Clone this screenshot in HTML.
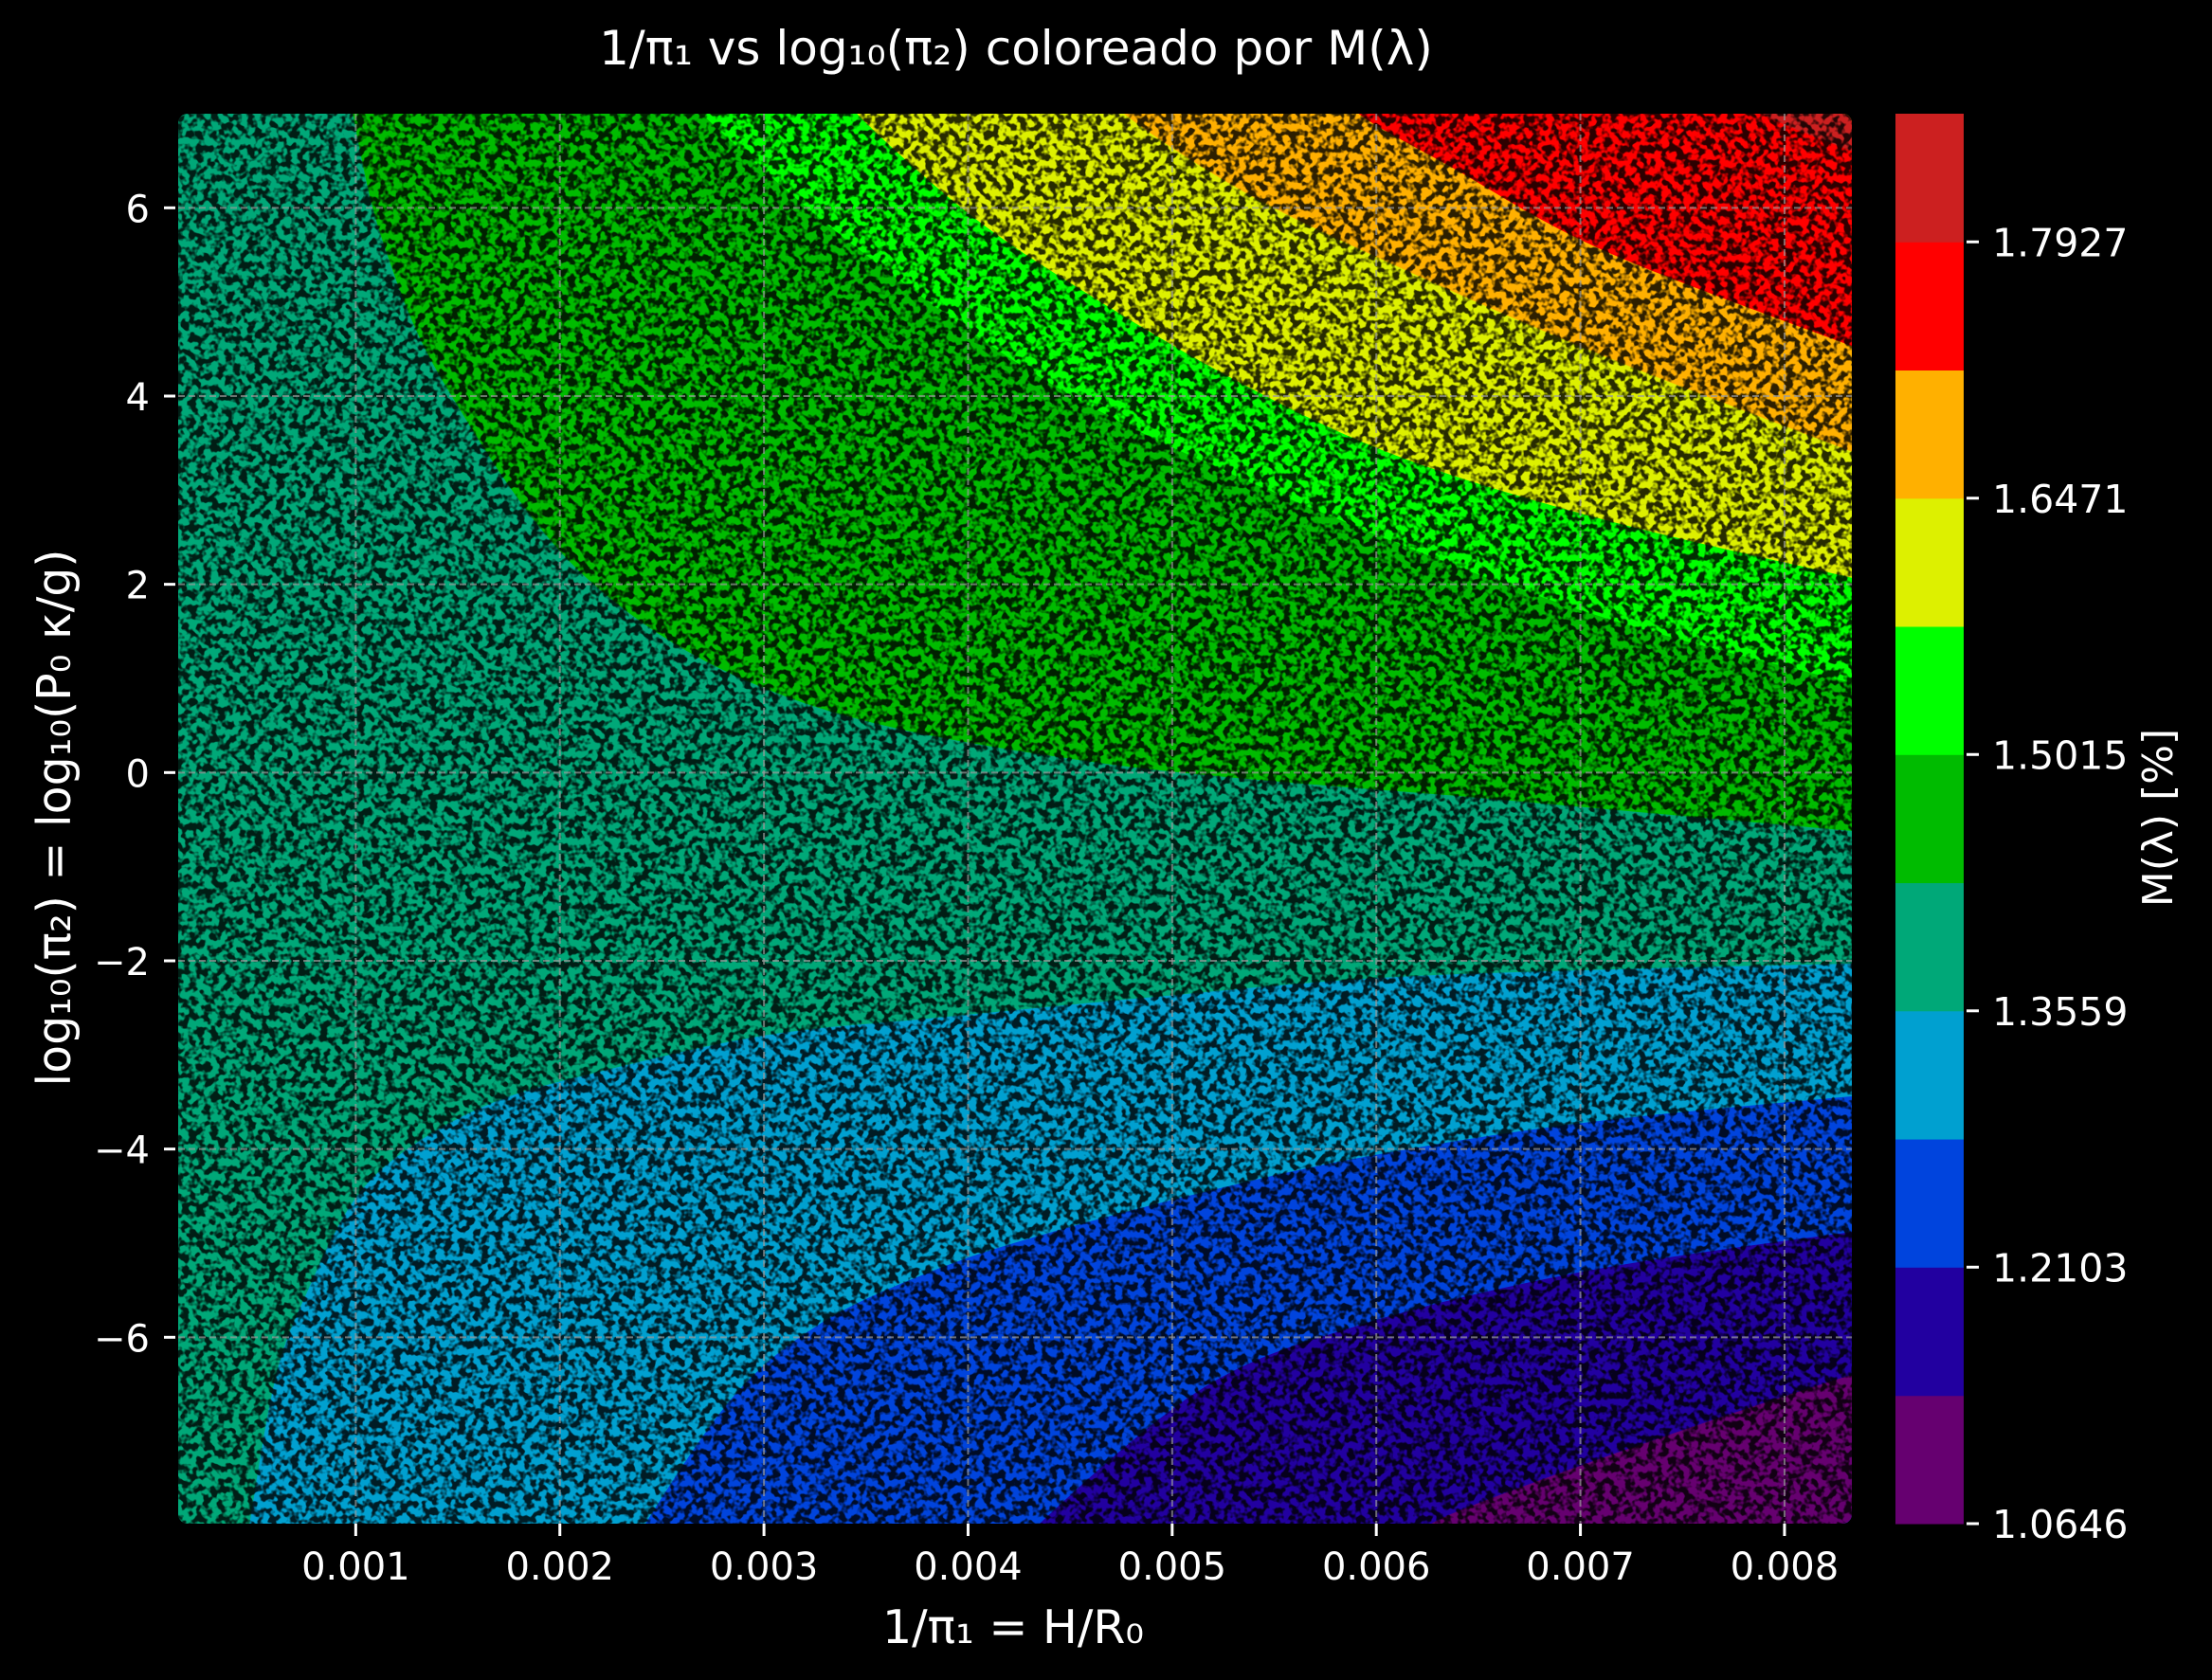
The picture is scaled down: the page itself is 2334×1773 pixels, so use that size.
<!DOCTYPE html>
<html><head><meta charset="utf-8"><style>
html,body{margin:0;padding:0;background:#000;}
svg{display:block;font-family:"DejaVu Sans","Liberation Sans",sans-serif;}
</style></head><body>
<svg id="chart" width="2334" height="1773" viewBox="0 0 2334 1773">
<defs>
<clipPath id="pc"><rect x="188" y="120" width="1766" height="1488" rx="10"/></clipPath>
<filter id="nz" x="0" y="0" width="100%" height="100%">
<feTurbulence type="fractalNoise" baseFrequency="0.13" numOctaves="2" seed="7"/>
<feColorMatrix type="matrix" values="0 0 0 0 0  0 0 0 0 0  0 0 0 0 0  6 0 0 0 -2.6"/>
</filter>
</defs>
<rect width="2334" height="1773" fill="#000"/>
<g id="plot" clip-path="url(#pc)"></g>
<rect x="188" y="120" width="1766" height="1488" fill="#000" filter="url(#nz)" opacity="0.82" clip-path="url(#pc)"/>
<g id="grid"></g>
<g id="axes"></g>
<g id="cbar"></g>
<text x="1072" y="68" fill="#fff" font-size="50" text-anchor="middle">1/π₁ vs log₁₀(π₂) coloreado por M(λ)</text>
<text x="1069" y="1734" fill="#fff" font-size="49" text-anchor="middle">1/π₁ = H/R₀</text>
<text transform="translate(74,863) rotate(-90)" fill="#fff" font-size="49" text-anchor="middle">log₁₀(π₂) = log₁₀(P₀ κ/g)</text>
<text transform="translate(2292,863) rotate(-90)" fill="#fff" font-size="44" text-anchor="middle">M(λ) [%]</text>
</svg>
<script>
const xTicks=[0.001,0.002,0.003,0.004,0.005,0.006,0.007,0.008];
const xTickLabels=["0.001","0.002","0.003","0.004","0.005","0.006","0.007","0.008"];
const yTicks=[-6,-4,-2,0,2,4,6];
const yTickLabels=["−6","−4","−2","0","2","4","6"];
const bandColors=["#660070","#2200a0","#0044dd","#00a0d0","#00a878","#00bb00","#00ff00","#ddf000","#ffb000","#ff0000","#cc2020"];
const levels=[1.0646,1.1374,1.2103,1.2831,1.3559,1.4287,1.5015,1.5743,1.6471,1.7199,1.7927,1.8655];
const cbTickValues=[1.0646,1.2103,1.3559,1.5015,1.6471,1.7927];
const cbTickLabels=["1.0646","1.2103","1.3559","1.5015","1.6471","1.7927"];
const greenX=[0.000986,0.00113,0.00144,0.00213,0.00313,0.00462,0.00662,0.00833];
const greenY=[6.99,5.66,4.11,2.07,0.79,0.11,-0.29,-0.62];
const lgreenX=[0.00270,0.00350,0.00455,0.00586,0.00711,0.00833];
const lgreenY=[6.99,5.50,3.95,2.65,1.65,0.95];
const yellowX=[0.00346,0.00402,0.00462,0.00536,0.00612,0.00711,0.00833];
const yellowY=[6.99,5.91,5.04,4.11,3.35,2.69,2.07];
const orangeX=[0.00477,0.00536,0.00612,0.00711,0.00833];
const orangeY=[6.99,6.16,5.36,4.43,3.41];
const redX=[0.00592,0.00637,0.00711,0.00833];
const redY=[6.99,6.43,5.55,4.53];
const dredX=[0.0079,0.00833];
const dredY=[6.99,6.6];
const cyanX=[0.00833,0.00702,0.00595,0.00488,0.00382,0.00301,0.00221,0.00168,0.00126,0.00099,0.00077,0.00061,0.00048];
const cyanY=[-2.03,-2.10,-2.19,-2.39,-2.61,-2.79,-3.17,-3.50,-3.99,-4.55,-5.48,-6.40,-7.98];
const blueX=[0.00833,0.00702,0.00595,0.00515,0.00435,0.00382,0.00328,0.00285,0.00242];
const blueY=[-3.44,-3.72,-4.08,-4.46,-4.92,-5.30,-5.85,-6.63,-7.98];
const indigoX=[0.00833,0.00702,0.00595,0.00515,0.00435];
const indigoY=[-4.88,-5.30,-5.85,-6.54,-7.98];
const purpleX=[0.00833,0.00755,0.00675,0.00627];
const purpleY=[-6.40,-6.95,-7.56,-7.98];

const xMin=0.00013,xMax=0.00833,yMin=-7.98,yMax=7.0;
const L=188,R=1954,T=120,B=1608;
const sx=v=>L+(v-xMin)/(xMax-xMin)*(R-L);
const sy=v=>T+(yMax-v)/(yMax-yMin)*(B-T);
const NS="http://www.w3.org/2000/svg";
const plot=document.getElementById('plot');
function mk(tag,parent){const e=document.createElementNS(NS,tag);parent.appendChild(e);return e;}

function smooth(P){
  let d='';
  for(let i=0;i<P.length-1;i++){
    const p0=P[Math.max(0,i-1)],p1=P[i],p2=P[i+1],p3=P[Math.min(P.length-1,i+2)];
    const c1=[p1[0]+(p2[0]-p0[0])/6,p1[1]+(p2[1]-p0[1])/6];
    const c2=[p2[0]-(p3[0]-p1[0])/6,p2[1]-(p3[1]-p1[1])/6];
    d+=' C'+c1[0]+','+c1[1]+' '+c2[0]+','+c2[1]+' '+p2[0]+','+p2[1];
  }
  return d;
}

let bg=mk('rect',plot);
bg.setAttribute('x',L);bg.setAttribute('y',T);bg.setAttribute('width',R-L);bg.setAttribute('height',B-T);bg.setAttribute('fill',bandColors[4]);



function upper(xs,ys,color,name){
  const P=xs.map((x,i)=>[sx(x),sy(ys[i])]);
  P.unshift([P[0][0]-2,T-20]);
  let d='M'+P[0][0]+','+P[0][1]+smooth(P)+' L'+(R+20)+','+P[P.length-1][1]+' L'+(R+20)+','+(T-20)+' Z';
  const p=mk('path',plot);
  p.setAttribute('d',d);p.setAttribute('fill',color);
  
  
}
function lower(xs,ys,color,name){
  const P=xs.map((x,i)=>[sx(x),sy(ys[i])]);
  P.unshift([R+20,P[0][1]]);
  P.push([P[P.length-1][0]-2,B+20]);
  let d='M'+P[0][0]+','+P[0][1]+smooth(P)+' L'+(R+20)+','+(B+20)+' Z';
  const p=mk('path',plot);
  p.setAttribute('d',d);p.setAttribute('fill',color);
  
  
}
upper(greenX,greenY,bandColors[5],'region-green');
upper(lgreenX,lgreenY,bandColors[6],'region-bright-green');
upper(yellowX,yellowY,bandColors[7],'region-yellow');
upper(orangeX,orangeY,bandColors[8],'region-orange');
upper(redX,redY,bandColors[9],'region-red');
upper(dredX,dredY,bandColors[10],'region-dark-red');
lower(cyanX,cyanY,bandColors[3],'region-cyan');
lower(blueX,blueY,bandColors[2],'region-blue');
lower(indigoX,indigoY,bandColors[1],'region-indigo');
lower(purpleX,purpleY,bandColors[0],'region-purple');

const grid=document.getElementById('grid'),axes=document.getElementById('axes');
xTicks.forEach((v,i)=>{
  const x=sx(v);
  const g=mk('line',grid);
  g.setAttribute('x1',x);g.setAttribute('x2',x);g.setAttribute('y1',T);g.setAttribute('y2',B);
  g.setAttribute('stroke','#9a9a9a');g.setAttribute('stroke-width','2');g.setAttribute('stroke-dasharray','7,4');g.setAttribute('opacity','0.7');
  
  
  const t=mk('line',axes);
  t.setAttribute('x1',x);t.setAttribute('x2',x);t.setAttribute('y1',B);t.setAttribute('y2',B+13);
  t.setAttribute('stroke','#fff');t.setAttribute('stroke-width','3');
  
  
  const l=mk('text',axes);
  l.setAttribute('x',x);l.setAttribute('y',B+59);l.setAttribute('fill','#fff');l.setAttribute('font-size','40');l.setAttribute('text-anchor','middle');
  l.textContent=xTickLabels[i];
  
  
});
yTicks.forEach((v,i)=>{
  const y=sy(v);
  const g=mk('line',grid);
  g.setAttribute('x1',L);g.setAttribute('x2',R);g.setAttribute('y1',y);g.setAttribute('y2',y);
  g.setAttribute('stroke','#9a9a9a');g.setAttribute('stroke-width','2');g.setAttribute('stroke-dasharray','7,4');g.setAttribute('opacity','0.7');
  
  
  const t=mk('line',axes);
  t.setAttribute('x1',L-15);t.setAttribute('x2',L-3);t.setAttribute('y1',y);t.setAttribute('y2',y);
  t.setAttribute('stroke','#fff');t.setAttribute('stroke-width','3');
  
  
  const l=mk('text',axes);
  l.setAttribute('x',L-30);l.setAttribute('y',y+15);l.setAttribute('fill','#fff');l.setAttribute('font-size','40');l.setAttribute('text-anchor','end');
  l.textContent=yTickLabels[i];
  
  
});

const cb=document.getElementById('cbar');
const cT=120,cB=1608,cL=2000,cR=2072;
const cy=v=>cB-(v-levels[0])/(levels[levels.length-1]-levels[0])*(cB-cT);
bandColors.forEach((c,i)=>{
  const r=mk('rect',cb);
  const y1=cy(levels[i+1]),y0=cy(levels[i]);
  r.setAttribute('x',cL);r.setAttribute('y',y1);r.setAttribute('width',cR-cL);r.setAttribute('height',y0-y1+0.5);r.setAttribute('fill',c);
  
  
});
cbTickValues.forEach((v,i)=>{
  const y=cy(v);
  const t=mk('line',cb);
  t.setAttribute('x1',cR+3);t.setAttribute('x2',cR+16);t.setAttribute('y1',y);t.setAttribute('y2',y);
  t.setAttribute('stroke','#fff');t.setAttribute('stroke-width','3');
  
  
  const l=mk('text',cb);
  l.setAttribute('x',cR+30);l.setAttribute('y',y+15);l.setAttribute('fill','#fff');l.setAttribute('font-size','41');
  l.textContent=cbTickLabels[i];
  
  
});
</script>
</body></html>
